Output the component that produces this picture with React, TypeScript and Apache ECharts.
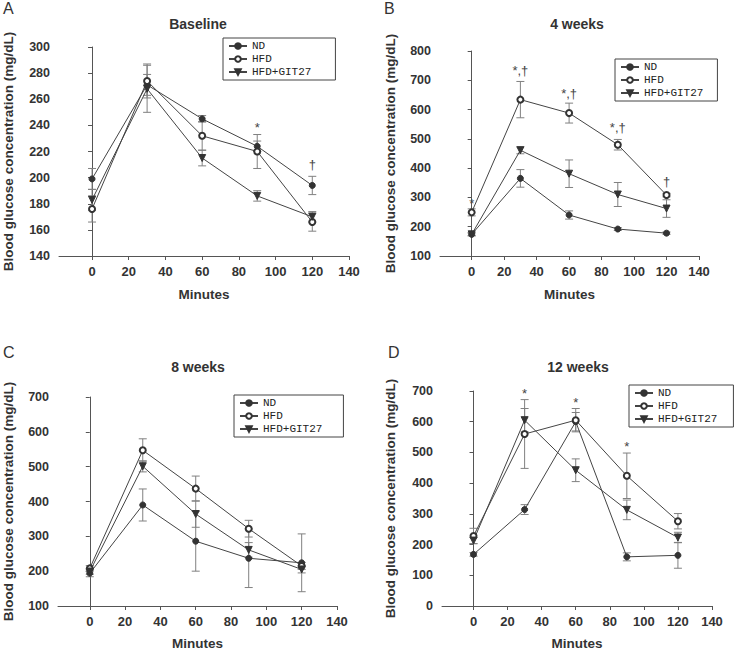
import React, { useEffect, useRef } from "react";
import * as echarts from "echarts";

const minutes = [0, 30, 60, 90, 120];
const xTickLabels = [0, 20, 40, 60, 80, 100, 120, 140];
const seriesNames = ["ND", "HFD", "HFD+GIT27"];

// Panel A: Baseline
const baseND = [199, 271, 245, 224, 194];
const baseNDErr = [8, 8, 2.5, 4, 7];
const baseHFD = [176, 274, 232, 220, 166];
const baseHFDErr = [10, 13, 11, 13, 7];
const baseGIT = [183, 268, 215, 186, 170];
const baseGITErr = [8, 18, 6, 4, 4];
const baseMarks: [string, number, number][] = [["*", 90, 238], ["†", 120, 210]];

// Panel B: 4 weeks
const w4ND = [174, 365, 240, 192, 178];
const w4NDErr = [5, 30, 14, 5, 4];
const w4HFD = [249, 634, 588, 480, 308];
const w4HFDErr = [12, 62, 34, 18, 6];
const w4GIT = [174, 461, 381, 310, 262];
const w4GITErr = [5, 12, 47, 41, 30];
const w4Marks: [string, number, number][] = [["*", 0, 280], ["*,†", 30, 735], ["*,†", 60, 655], ["*,†", 90, 540], ["†", 120, 355]];

// Panel C: 8 weeks
const w8ND = [194, 390, 286, 237, 224];
const w8NDErr = [10, 46, 86, 84, 83];
const w8HFD = [208, 547, 437, 322, 215];
const w8HFDErr = [8, 33, 36, 24, 10];
const w8GIT = [199, 501, 364, 261, 205];
const w8GITErr = [8, 16, 38, 21, 10];
const w8Marks: [string, number, number][] = [];

// Panel D: 12 weeks
const w12ND = [168, 314, 600, 160, 165];
const w12NDErr = [6, 16, 30, 13, 42];
const w12HFD = [228, 560, 605, 424, 276];
const w12HFDErr = [25, 112, 38, 74, 25];
const w12GIT = [213, 605, 442, 313, 223];
const w12GITErr = [10, 38, 37, 32, 17];
const w12Marks: [string, number, number][] = [["*", 30, 692], ["*", 60, 663], ["*", 90, 518]];

const panels = [
  { letter: "A", title: "Baseline", yMin: 140, yMax: 300, yStep: 20, xMin: -18,
    vals: [baseND, baseHFD, baseGIT], errs: [baseNDErr, baseHFDErr, baseGITErr], marks: baseMarks },
  { letter: "B", title: "4 weeks", yMin: 100, yMax: 800, yStep: 100, xMin: -19.5,
    vals: [w4ND, w4HFD, w4GIT], errs: [w4NDErr, w4HFDErr, w4GITErr], marks: w4Marks },
  { letter: "C", title: "8 weeks", yMin: 100, yMax: 700, yStep: 100, xMin: -18,
    vals: [w8ND, w8HFD, w8GIT], errs: [w8NDErr, w8HFDErr, w8GITErr], marks: w8Marks },
  { letter: "D", title: "12 weeks", yMin: 0, yMax: 700, yStep: 100, xMin: -18.5,
    vals: [w12ND, w12HFD, w12GIT], errs: [w12NDErr, w12HFDErr, w12GITErr], marks: w12Marks },
];

const layouts = [
  { grid: { left: 59, top: 47, width: 290, height: 209 }, titleX: 198, titleY: 24, letterX: 3, letterY: 8,
    legend: { left: 223, top: 38, padR: 24 }, yGap: 44, xGap: 31 },
  { grid: { left: 440, top: 51, width: 259, height: 205 }, titleX: 577, titleY: 24, letterX: 384, letterY: 8,
    legend: { left: 615, top: 59, padR: 14 }, yGap: 43, xGap: 31 },
  { grid: { left: 58, top: 397, width: 279, height: 209 }, titleX: 198, titleY: 367, letterX: 3, letterY: 352,
    legend: { left: 234, top: 395, padR: 21 }, yGap: 43, xGap: 30 },
  { grid: { left: 442, top: 391, width: 270, height: 215 }, titleX: 578, titleY: 367, letterX: 388, letterY: 352,
    legend: { left: 629, top: 385, padR: 16 }, yGap: 45, xGap: 30 },
];

const symbols = ["circle", "emptyCircle", "triangle"];
const DARK = "#333";
const SANS = "Liberation Sans";
const MONO = "Liberation Mono";

function buildOption() {
  const grid: any[] = [];
  const xAxis: any[] = [];
  const yAxis: any[] = [];
  const series: any[] = [];
  const legend: any[] = [];
  const graphic: any[] = [];

  panels.forEach((p, gi) => {
    const L = layouts[gi];
    grid.push({ ...L.grid, containLabel: false });
    xAxis.push({
      gridIndex: gi, type: "value", min: p.xMin, max: 140,
      name: "Minutes", nameLocation: "middle", nameGap: L.xGap,
      nameTextStyle: { fontFamily: SANS, fontWeight: "bold", fontSize: 13.5, color: DARK },
      axisLine: { show: true, lineStyle: { color: "#555", width: 1 } },
      axisTick: { show: true, length: 4, customValues: xTickLabels, lineStyle: { color: "#555" } },
      axisLabel: { customValues: xTickLabels, fontFamily: SANS, fontWeight: "bold", fontSize: 13, color: DARK, margin: 9 },
      splitLine: { show: false },
    });
    yAxis.push({
      gridIndex: gi, type: "value", min: p.yMin, max: p.yMax, interval: p.yStep,
      name: "Blood glucose concentration (mg/dL)", nameLocation: "middle", nameGap: L.yGap,
      nameTextStyle: { fontFamily: SANS, fontWeight: "bold", fontSize: 13.5, color: DARK },
      axisLine: { show: true, lineStyle: { color: "#555", width: 1 } },
      axisTick: { show: true, length: 4, lineStyle: { color: "#555" } },
      axisLabel: { fontFamily: SANS, fontWeight: "bold", fontSize: 12.5, color: DARK, margin: 9 },
      splitLine: { show: false },
    });

    // error bars
    p.vals.forEach((vals, si) => {
      const errs = p.errs[si];
      series.push({
        type: "custom", name: "err" + gi + si, xAxisIndex: gi, yAxisIndex: gi, z: 1,
        itemStyle: { color: "#808080" },
        data: minutes.map((m, i) => [m, vals[i], errs[i]]),
        encode: { x: 0, y: 1 },
        renderItem: (params: any, api: any) => {
          const x = api.value(0), y = api.value(1), e = api.value(2);
          const t = api.coord([x, y + e]);
          const b = api.coord([x, y - e]);
          const hw = 4;
          const st = { stroke: "#808080", lineWidth: 1 };
          return {
            type: "group",
            children: [
              { type: "line", shape: { x1: t[0], y1: t[1], x2: b[0], y2: b[1] }, style: st },
              { type: "line", shape: { x1: t[0] - hw, y1: t[1], x2: t[0] + hw, y2: t[1] }, style: st },
              { type: "line", shape: { x1: b[0] - hw, y1: b[1], x2: b[0] + hw, y2: b[1] }, style: st },
            ],
          };
        },
      });
    });

    // lines
    p.vals.forEach((vals, si) => {
      series.push({
        type: "line", name: seriesNames[si], xAxisIndex: gi, yAxisIndex: gi, z: 3,
        data: minutes.map((m, i) => [m, vals[i]]),
        symbol: symbols[si], symbolSize: si === 2 ? 7 : 6, symbolRotate: si === 2 ? 180 : 0,
        showAllSymbol: true,
        lineStyle: { color: "#444", width: 1 },
        itemStyle: { color: DARK, borderColor: DARK, borderWidth: 1 },
        emphasis: { disabled: true },
      });
    });

    // significance marks
    const marks = p.marks;
    series.push({
      type: "custom", name: "marks" + gi, xAxisIndex: gi, yAxisIndex: gi, z: 4,
      itemStyle: { color: "#444" },
      data: marks.map((m) => [m[1], m[2]]),
      encode: { x: 0, y: 1 },
      renderItem: (params: any, api: any) => {
        const c = api.coord([api.value(0), api.value(1)]);
        return {
          type: "text", x: c[0], y: c[1],
          style: { text: marks[params.dataIndex][0], fill: "#444", fontFamily: SANS, fontSize: 13, align: "center", verticalAlign: "middle" },
        };
      },
    });

    legend.push({
      data: seriesNames, orient: "vertical", left: L.legend.left, top: L.legend.top,
      padding: [2, L.legend.padR, 2, 5], itemGap: 1, itemWidth: 18, itemHeight: 7,
      borderColor: "#444", borderWidth: 1, borderRadius: 0, selectedMode: false,
      textStyle: { fontFamily: MONO, fontSize: 11, color: "#222", lineHeight: 12 },
    });

    graphic.push({
      type: "text", x: L.titleX, y: L.titleY,
      style: { text: p.title, fontFamily: SANS, fontWeight: "bold", fontSize: 14, fill: DARK, align: "center", verticalAlign: "middle" },
    });
    graphic.push({
      type: "text", x: L.letterX, y: L.letterY,
      style: { text: p.letter, fontFamily: SANS, fontSize: 16, fill: "#333", align: "left", verticalAlign: "middle" },
    });
  });

  return { animation: false, backgroundColor: "#fff", grid, xAxis, yAxis, series, legend, graphic };
}

export default function App() {
  const ref = useRef<HTMLDivElement>(null);
  useEffect(() => {
    if (!ref.current) return;
    const chart = echarts.init(ref.current, undefined, { renderer: "svg" });
    chart.setOption(buildOption() as any);
    return () => chart.dispose();
  }, []);
  return <div ref={ref} style={{ position: "fixed", left: 0, top: 0, width: 741, height: 654, background: "#fff" }} />;
}
